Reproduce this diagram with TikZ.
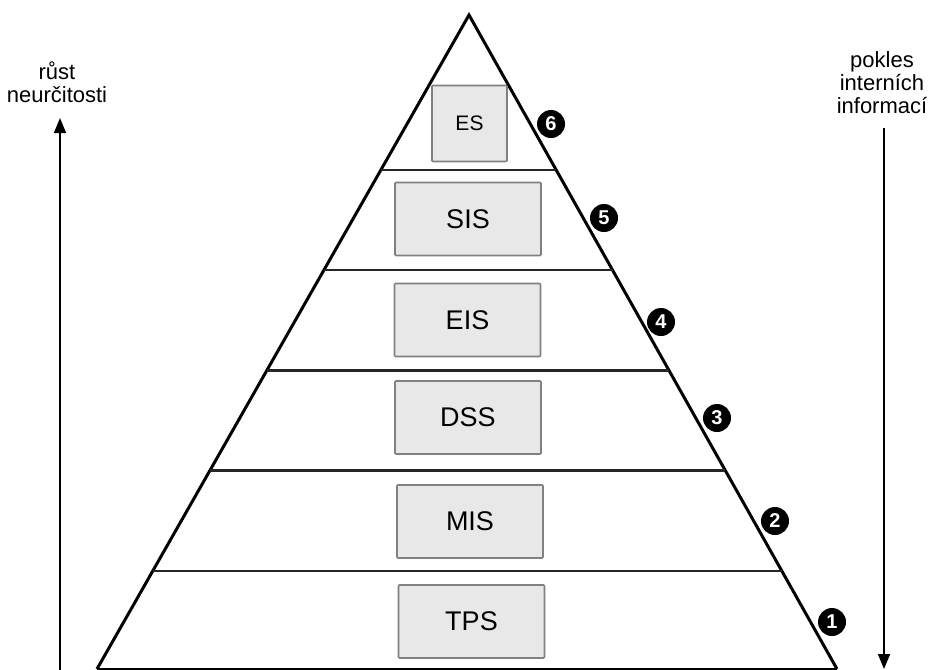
\documentclass[tikz,border=0pt]{standalone}
\usepackage{fontspec}
\setmainfont{Liberation Sans}
\usepackage{tikz}
\usetikzlibrary{arrows.meta,calc}
\tikzstyle {sys box} = [draw=black!50, fill=black!9, line width=1.6pt, rounded corners=1pt, inner sep=0pt, minimum width=146pt, minimum height=73pt, font=\fontsize{27}{27}\selectfont]
\tikzstyle {level num} = [circle, fill=black, text=white, inner sep=0pt, minimum size=28pt, font=\fontsize{20}{20}\selectfont\bfseries]
\tikzset{side label/.style = {align=center, font=\fontsize{22}{23}\selectfont},
         axis arrow/.style = {line width=1.6pt, -{Triangle[width=12pt,length=15pt]}}}

\begin{document}
\begin{tikzpicture}[x=1pt,y=-1pt]
            \useasboundingbox (0,0) rectangle (930,670);
            \coordinate (apex) at (469, 15);
            \coordinate (bl) at (97, 669);
            \coordinate (br) at (837, 669);
            \draw[line width=3pt, line join=miter] (bl) -- (apex) -- (br);
            \draw[line width=3pt] (bl) -- (br);
            \foreach \t in {0.237, 0.390, 0.543, 0.696, 0.850}
                \draw[line width=2.8pt, black!85] ($(apex)!\t!(bl)$) -- ($(apex)!\t!(br)$);
            % systems
            \node[sys box, minimum width=75pt, minimum height=76pt, font=\fontsize{21}{21}\selectfont] (es) at (469.5, 123.5) {ES};
            \node[sys box] (sis) at (468, 219) {SIS};
            \node[sys box] (eis) at (467.5, 320) {EIS};
            \node[sys box] (dss) at (468, 417.5) {DSS};
            \node[sys box] (mis) at (470, 521.5) {MIS};
            \node[sys box] (tps) at (471.5, 621.5) {TPS};
            % levels
            \node[level num] (n6) at (551, 124) {6};
            \node[level num] (n5) at (604, 218) {5};
            \node[level num] (n4) at (661, 322) {4};
            \node[level num] (n3) at (717, 418) {3};
            \node[level num] (n2) at (775, 521) {2};
            \node[level num] (n1) at (832, 622) {1};
            % side arrows
            \node[side label] (growth) at (57, 82) {růst\\neurčitosti};
            \node[side label] (decline) at (882, 83) {pokles\\interních\\informací};
            \coordinate (lbot) at (60, 672);
            \coordinate (ltop) at (60, 118);
            \coordinate (rtop) at (884, 128);
            \coordinate (rbot) at (884, 669);
            \draw[axis arrow] (lbot) -- (ltop);
            \draw[axis arrow] (rtop) -- (rbot);
        \end{tikzpicture}
\end{document}
